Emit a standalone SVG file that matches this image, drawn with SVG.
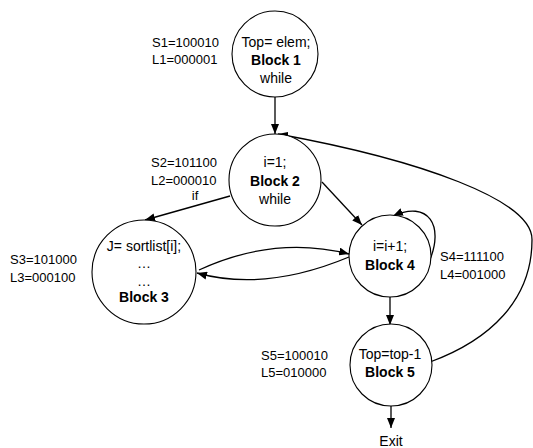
<svg xmlns="http://www.w3.org/2000/svg" width="533" height="448" viewBox="0 0 533 448">
<style>
.n{fill:#fff;stroke:#000;stroke-width:1.1}
.t{font-family:"Liberation Sans",Arial,sans-serif;font-size:14px;fill:#000;text-anchor:middle}
.b{font-weight:bold}
.l{font-family:"Liberation Sans",Arial,sans-serif;font-size:13px;fill:#000}
.e{fill:none;stroke:#000;stroke-width:1.3;marker-end:url(#ah)}
</style>
<defs>
<marker id="ah" viewBox="0 0 10 8" refX="10" refY="4" markerWidth="10" markerHeight="8" markerUnits="userSpaceOnUse" orient="auto">
<path d="M0,0 L10,4 L0,8 z" fill="#000"/>
</marker>
</defs>
<rect width="533" height="448" fill="#fff"/>
<g id="connectors">
<path class="e" d="M275,97 L275,134"/>
<path class="e" d="M230,196 L145,220"/>
<path class="e" d="M322,182 L362,225"/>
<path class="e" d="M199,270 Q275,235 349,254"/>
<path class="e" d="M349,257 Q265,292 197,273"/>
<path class="e" d="M429,262 C445,225 428,200 393,216"/>
<path class="e" d="M390,297 L390,325"/>
<path class="e" d="M391,406 L391,428"/>
<path class="e" d="M430,362 C490,340 532,300 532,240 C533,200 420,160 278,134"/>
</g>
<g id="block1">
<circle class="n" cx="275" cy="54" r="43"/>
<text class="t" x="276" y="47">Top= elem;</text>
<text class="t b" x="276" y="65">Block 1</text>
<text class="t" x="276" y="83">while</text>
<text class="l" x="152" y="47">S1=100010</text>
<text class="l" x="152" y="64">L1=000001</text>
</g>
<g id="block2">
<circle class="n" cx="275" cy="180" r="46"/>
<text class="t" x="275" y="167">i=1;</text>
<text class="t b" x="275" y="186">Block 2</text>
<text class="t" x="275" y="204">while</text>
<text class="l" x="151" y="167">S2=101100</text>
<text class="l" x="151" y="185">L2=000010</text>
<text class="l" x="195" y="200" text-anchor="middle">if</text>
</g>
<g id="block3">
<circle class="n" cx="144" cy="272" r="52"/>
<text class="t" x="144" y="251">J= sortlist[i];</text>
<text class="t" x="144" y="268">…</text>
<text class="t" x="144" y="286">…</text>
<text class="t b" x="144" y="302">Block 3</text>
<text class="l" x="10" y="264">S3=101000</text>
<text class="l" x="10" y="282">L3=000100</text>
</g>
<g id="block4">
<circle class="n" cx="390" cy="256" r="41"/>
<text class="t" x="390" y="251">i=i+1;</text>
<text class="t b" x="390" y="270">Block 4</text>
<text class="l" x="440" y="261">S4=111100</text>
<text class="l" x="440" y="279">L4=001000</text>
</g>
<g id="block5">
<circle class="n" cx="391" cy="365" r="41"/>
<text class="t" x="390" y="359">Top=top-1</text>
<text class="t b" x="390" y="377">Block 5</text>
<text class="l" x="261" y="360">S5=100010</text>
<text class="l" x="261" y="377">L5=010000</text>
</g>
<g id="exit">
<text class="t" x="391" y="446">Exit</text>
</g>
</svg>
